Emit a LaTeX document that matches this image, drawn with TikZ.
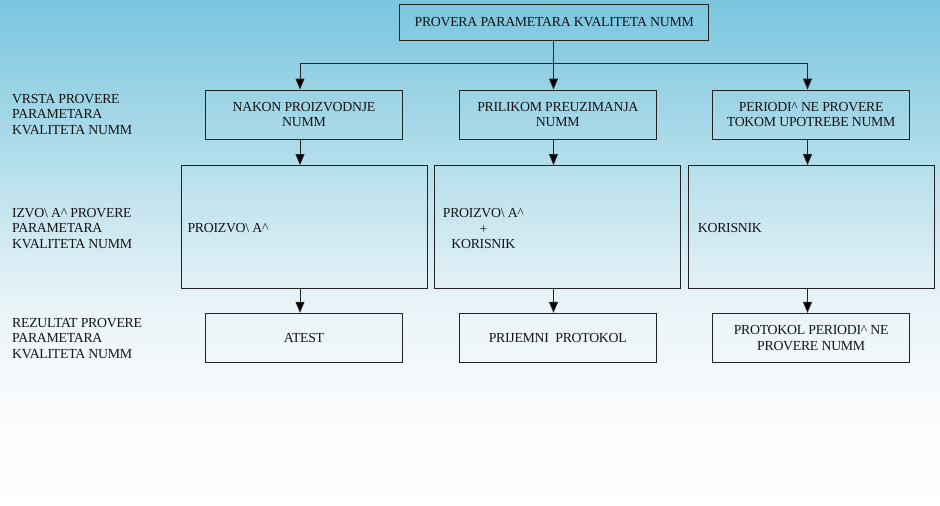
\documentclass[tikz,border=0pt]{standalone}
\usepackage{fontspec}
\setmainfont{Liberation Serif}
\usetikzlibrary{arrows.meta}
\definecolor{skyA}{RGB}{121,198,222}
\definecolor{skyB}{RGB}{176,220,234}
\definecolor{skyC}{RGB}{232,243,248}
\definecolor{skyD}{RGB}{248,251,253}
\definecolor{ink}{RGB}{20,20,20}
\definecolor{edge}{RGB}{35,35,35}
\newcommand\diagfont{\fontsize{13.8}{15.5}\selectfont\addfontfeatures{LetterSpace=-2}}
\newcommand\bsl{\textbackslash}
\newcommand\crt{\textasciicircum}
\begin{document}
\begin{tikzpicture}[x=1pt,y=-1pt,
  box/.style={draw=edge,line width=0.9pt,rectangle,inner sep=2pt,
    align=center,font=\diagfont,text=ink},
  smallbox/.style={box,minimum width=197pt,minimum height=49pt},
  bigbox/.style={box,minimum width=246pt,minimum height=123pt},
  lbl/.style={anchor=west,align=left,font=\diagfont,text=ink,inner sep=0pt},
  link/.style={draw=edge,line width=0.9pt},
  arr/.style={link,-{Triangle[length=11pt,width=9pt,fill=black]}}]

% sky background fading to white
\useasboundingbox (0,0) rectangle (940,506);
\shade[top color=skyA,bottom color=skyB] (0,0) rectangle (940,150.5);
\shade[top color=skyB,bottom color=skyC] (0,150) rectangle (940,300.5);
\shade[top color=skyC,bottom color=skyD] (0,300) rectangle (940,400.5);
\shade[top color=skyD,bottom color=white] (0,400) rectangle (940,506);

% headline box
\node[box,minimum width=309pt,minimum height=36pt] (top) at (554.2,22.3)
  {PROVERA PARAMETARA KVALITETA NUMM};

% column axes and distribution bar
\coordinate (c1) at (300,63.7);
\coordinate (c2) at (553.5,63.7);
\coordinate (c3) at (807.5,63.7);

% row 1: kind of check
\node[smallbox] (r1a) at (304,114.5) {NAKON PROIZVODNJE\\NUMM};
\node[smallbox] (r1b) at (557.8,114.5) {PRILIKOM PREUZIMANJA\\NUMM};
\node[smallbox] (r1c) at (811.2,114.5) {PERIODI\crt{} NE PROVERE\\TOKOM UPOTREBE NUMM};

% row 2: who performs it
\node[bigbox] (r2a) at (304,227) {};
\node[bigbox] (r2b) at (557.6,227) {};
\node[bigbox] (r2c) at (811,227) {};
\node[lbl] (t2a) at (187.3,228) {PROIZVO\bsl\ A\crt{}};
\node[lbl,align=center] (t2b) at (442.7,228.5) {PROIZVO\bsl\ A\crt{}\\+\\KORISNIK};
\node[lbl] (t2c) at (697.7,227.5) {KORISNIK};

% row 3: resulting document
\node[smallbox] (r3a) at (304,337.8) {ATEST};
\node[smallbox] (r3b) at (557.8,337.8) {PRIJEMNI\ \ PROTOKOL};
\node[smallbox] (r3c) at (811.2,337.8) {PROTOKOL PERIODI\crt{} NE\\PROVERE NUMM};

% row captions
\node[lbl] (h1) at (12,114.5) {VRSTA PROVERE\\PARAMETARA\\KVALITETA NUMM};
\node[lbl] (h2) at (12,228.5) {IZVO\bsl\ A\crt{} PROVERE\\PARAMETARA\\KVALITETA NUMM};
\node[lbl] (h3) at (12,338.5) {REZULTAT PROVERE\\PARAMETARA\\KVALITETA NUMM};

% connectors
\draw[link] (top.south -| c2) -- (c2);
\draw[link] (c1) -- (c3);
\foreach \c/\a/\b/\d in {c1/r1a/r2a/r3a, c2/r1b/r2b/r3b, c3/r1c/r2c/r3c}{
  \draw[arr] (\c) -- (\a.north -| \c);
  \draw[arr] (\a.south -| \c) -- (\b.north -| \c);
  \draw[arr] (\b.south -| \c) -- (\d.north -| \c);
}
\end{tikzpicture}
\end{document}
